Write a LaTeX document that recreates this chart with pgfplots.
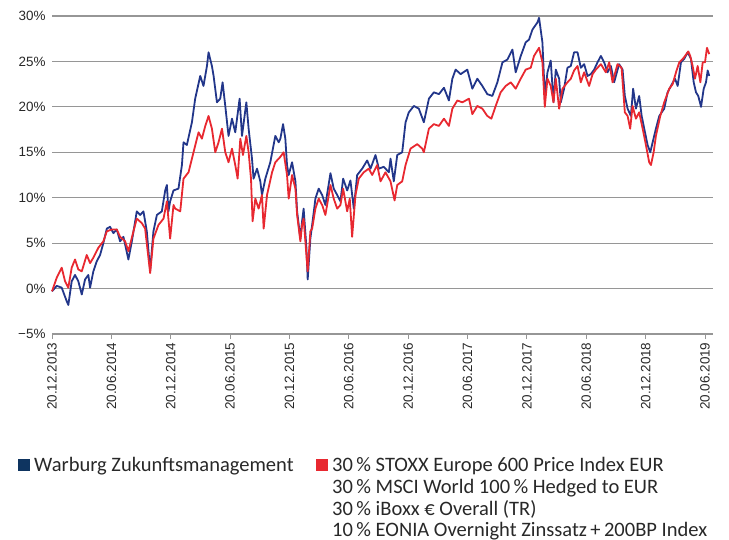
\documentclass[border=0pt]{standalone}
\usepackage{pgfplots}
\pgfplotsset{compat=1.18}
\usepackage{fontspec}
\setmainfont{Liberation Sans}
\newfontfamily\legfont{Carlito}
\definecolor{wblue}{RGB}{34,54,138}
\definecolor{wred}{RGB}{232,40,48}
\definecolor{legblue}{RGB}{14,52,96}
\definecolor{gridgray}{RGB}{150,150,150}
\definecolor{txt}{RGB}{40,40,40}
\begin{document}
\begin{tikzpicture}[x=1bp,y=1bp]
\path[use as bounding box] (0,0) rectangle (729,-540);
\begin{axis}[
  at={(52bp,-16bp)}, anchor=north west,
  width=661bp, height=318bp, scale only axis,
  xmin=0, xmax=66.8, ymin=-5, ymax=30,
  axis x line=bottom, axis y line=left,
  axis line style={-},
  x axis line style={draw=gridgray, line width=1.2bp},
  y axis line style={draw=none},
  ytick={-5,0,5,10,15,20,25,30},
  yticklabels={−5\%,0\%,5\%,10\%,15\%,20\%,25\%,30\%},
  ymajorgrids, grid style={gridgray, line width=1.2bp},
  ytick style={draw=none},
  xtick={0,6,12,18,24,30,36,42,48,54,60,66},
  xticklabels={20.12.2013,20.06.2014,20.12.2014,20.06.2015,20.12.2015,20.06.2016,20.12.2016,20.06.2017,20.12.2017,20.06.2018,20.12.2018,20.06.2019},
  x tick label style={rotate=90, anchor=east},
  xtick style={draw=gridgray, line width=1bp},
  tick align=outside, major tick length=5bp,
  y tick label style={xshift=2bp},
  tick label style={font=\fontsize{13.5}{16}\selectfont, text=txt},
  /pgf/number format/assume math mode=true,
  clip=false,
]
\addplot[wblue, line width=1.8bp, line join=round] coordinates {
(0,-0.3)(0.48,0.3)(0.98,0.1)(1.49,-1.4)(1.65,-1.8)(1.99,0.8)(2.33,1.5)(2.66,0.8)(3.01,-0.65)(3.34,1.0)(3.67,1.5)(3.85,0.1)(4.18,1.9)(4.52,3.0)(4.86,3.7)(5.19,5.0)(5.54,6.6)(5.87,6.8)(6.20,6.1)(6.55,6.5)(6.88,5.2)(7.22,5.7)(7.72,3.2)(8.07,5.2)(8.57,8.5)(8.91,8.1)(9.24,8.5)(9.58,6.3)(9.92,2.0)(10.25,6.3)(10.60,8.1)(11.10,8.5)(11.44,10.8)(11.61,11.4)(11.77,8.5)(11.94,9.6)(12.28,10.8)(12.78,11.0)(13.13,13.6)(13.29,16.1)(13.63,15.8)(14.14,18.3)(14.47,20.9)(14.98,23.4)(15.31,22.3)(15.66,24.5)(15.82,26.0)(16.16,24.5)(16.33,23.4)(16.67,20.5)(17.00,20.9)(17.24,22.7)(17.51,20.1)(17.84,16.8)(18.19,18.7)(18.52,17.2)(18.96,20.9)(19.20,16.8)(19.64,20.5)(19.87,17.6)(20.21,14.3)(20.37,12.1)(20.72,13.2)(21.05,11.8)(21.22,10.3)(21.56,12.1)(22.06,13.9)(22.57,16.8)(22.91,16.1)(23.08,16.5)(23.35,18.1)(23.58,16.5)(23.75,13.6)(23.92,12.5)(24.26,13.9)(24.60,11.8)(24.77,8.5)(25.10,5.5)(25.27,7.4)(25.43,8.8)(25.71,4.5)(25.84,1.0)(26.11,5.5)(26.29,7.0)(26.62,9.9)(26.95,11.0)(27.30,10.3)(27.63,9.2)(28.14,12.7)(28.47,11.0)(28.82,10.3)(29.15,9.6)(29.42,12.1)(29.83,10.8)(30.16,11.9)(30.50,8.8)(30.84,12.5)(31.35,13.2)(31.85,14.1)(32.19,13.2)(32.69,14.7)(33.03,13.2)(33.53,13.4)(34.04,12.8)(34.21,14.3)(34.54,11.8)(34.89,14.7)(35.39,15.0)(35.73,18.3)(36.06,19.4)(36.57,20.1)(37.07,19.8)(37.58,18.3)(38.09,20.9)(38.59,21.6)(39.10,21.4)(39.61,22.1)(40.11,20.7)(40.46,23.1)(40.79,24.1)(41.30,23.6)(41.97,24.1)(42.48,22.0)(42.98,23.1)(43.49,22.3)(43.99,21.4)(44.50,21.2)(45.01,22.7)(45.52,24.9)(46.02,25.2)(46.53,26.3)(46.86,23.8)(47.37,25.6)(47.87,27.1)(48.21,27.4)(48.55,28.5)(49.06,29.3)(49.22,29.8)(49.56,27.1)(49.80,21.2)(50.07,23.8)(50.40,25.1)(50.68,20.5)(50.91,24.1)(51.25,23.1)(51.42,20.5)(51.75,22.0)(52.09,24.3)(52.43,24.5)(52.76,26.0)(53.11,26.0)(53.44,24.3)(53.78,24.7)(54.12,23.4)(54.45,23.6)(54.79,24.1)(55.13,24.9)(55.47,25.6)(55.80,24.9)(56.14,23.8)(56.48,24.5)(56.81,22.7)(57.31,24.7)(57.66,24.1)(57.89,21.2)(58.17,19.8)(58.50,19.0)(58.73,22.0)(59.01,19.8)(59.34,21.2)(59.59,19.0)(59.85,17.6)(60.19,15.8)(60.46,15.0)(60.70,16.1)(61.03,17.6)(61.37,19.0)(61.87,19.8)(62.21,21.6)(62.55,22.3)(62.96,23.1)(63.23,22.3)(63.56,24.9)(63.90,25.3)(64.24,26.0)(64.57,25.3)(64.85,22.7)(65.08,21.6)(65.31,21.2)(65.59,20.0)(65.86,22.0)(66.09,22.7)(66.26,24.0)(66.42,23.4)
};
\addplot[wred, line width=1.8bp, line join=round] coordinates {
(0,-0.3)(0.48,1.2)(0.98,2.3)(1.32,0.8)(1.65,0.1)(1.99,2.3)(2.33,3.2)(2.66,2.1)(3.01,1.9)(3.51,3.7)(3.85,2.8)(4.18,3.4)(4.69,4.5)(5.19,5.2)(5.54,6.3)(6.04,6.5)(6.55,6.5)(6.88,5.7)(7.39,5.2)(7.72,4.1)(8.23,6.3)(8.57,7.7)(9.08,7.2)(9.41,6.6)(9.92,1.7)(10.25,5.5)(10.76,7.0)(11.27,7.7)(11.61,9.6)(11.94,5.5)(12.28,9.2)(12.45,8.8)(12.96,8.5)(13.29,12.1)(13.80,12.8)(14.30,15.0)(14.81,17.2)(15.15,16.5)(15.49,17.9)(15.82,19.0)(16.16,17.6)(16.50,15.0)(16.83,16.1)(17.18,17.6)(17.51,15.0)(17.84,13.9)(18.19,15.4)(18.52,13.6)(18.76,12.1)(19.03,16.5)(19.30,14.7)(19.64,16.8)(19.87,15.0)(20.11,12.1)(20.27,7.4)(20.55,9.9)(20.88,8.8)(21.22,10.3)(21.39,6.6)(21.73,10.3)(22.24,12.8)(22.57,13.9)(23.08,14.5)(23.41,15.0)(23.75,12.5)(23.92,9.9)(24.26,12.5)(24.60,11.0)(24.77,8.1)(25.10,5.2)(25.27,7.0)(25.43,7.7)(25.71,3.7)(25.84,1.9)(26.11,6.3)(26.29,6.6)(26.62,8.8)(26.95,9.9)(27.30,9.2)(27.63,8.1)(28.14,11.4)(28.47,9.9)(28.82,8.8)(29.15,9.2)(29.42,11.0)(29.83,8.5)(30.09,9.9)(30.33,5.7)(30.67,10.3)(31.00,12.1)(31.51,12.8)(32.01,13.2)(32.36,12.5)(32.86,13.6)(33.20,11.8)(33.70,12.8)(34.21,11.8)(34.62,9.7)(34.89,11.4)(35.39,11.8)(35.73,13.6)(36.23,15.4)(36.91,15.9)(37.42,15.4)(37.58,15.0)(38.09,17.6)(38.59,18.1)(39.10,17.9)(39.61,18.7)(40.11,17.9)(40.46,19.8)(40.96,20.7)(41.47,20.5)(42.14,20.9)(42.48,19.2)(42.98,20.1)(43.49,19.8)(43.99,19.0)(44.40,18.7)(44.84,20.1)(45.34,21.6)(45.85,22.3)(46.36,22.7)(46.86,22.0)(47.37,23.1)(47.87,24.1)(48.38,24.3)(48.71,25.6)(49.22,26.5)(49.56,24.9)(49.80,20.0)(50.07,23.1)(50.40,22.3)(50.68,20.5)(50.91,23.1)(51.25,19.8)(51.59,22.0)(52.09,22.7)(52.43,23.1)(52.76,24.0)(53.11,24.5)(53.44,22.7)(53.78,23.8)(54.28,22.3)(54.63,23.6)(54.96,24.1)(55.47,24.7)(55.97,23.8)(56.31,24.9)(56.65,22.7)(57.15,24.7)(57.56,24.3)(57.89,19.4)(58.17,19.0)(58.43,17.6)(58.67,20.1)(59.01,18.7)(59.34,19.4)(59.69,17.6)(60.02,15.8)(60.35,13.9)(60.53,13.6)(60.80,15.0)(61.03,16.8)(61.47,19.0)(61.87,20.5)(62.38,22.0)(62.72,22.5)(63.06,23.8)(63.39,24.9)(63.84,25.4)(64.30,26.1)(64.50,25.6)(64.74,24.5)(64.98,23.1)(65.25,24.5)(65.52,22.7)(65.76,24.9)(65.99,24.9)(66.19,26.5)(66.42,25.8)
};
\end{axis}
\fill[legblue] (18,-459) rectangle (29.5,-470.5);
\fill[wred] (316,-459) rectangle (327.5,-470.5);
\begin{scope}[every node/.style={anchor=base west, inner sep=0pt, text=txt, font=\legfont\fontsize{20.6}{22}\selectfont}]
\node at (34,-471) {Warburg Zukunftsmanagement};
\node at (332,-471) {30\,\% STOXX Europe 600 Price Index EUR};
\node at (332,-493) {30\,\% MSCI World 100\,\% Hedged to EUR};
\node at (332,-515) {30\,\% iBoxx € Overall (TR)};
\node at (332,-536) {10\,\% EONIA Overnight Zinssatz\,+\,200BP Index};
\end{scope}
\end{tikzpicture}
\end{document}
